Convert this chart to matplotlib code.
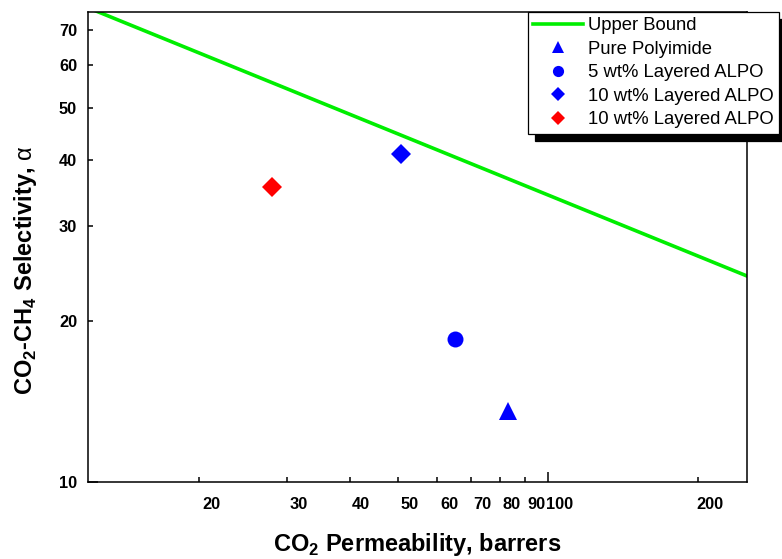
import matplotlib.pyplot as plt
from matplotlib.ticker import FixedLocator, FixedFormatter
from matplotlib.transforms import ScaledTranslation

plt.rcParams['font.family'] = ['Liberation Sans', 'DejaVu Sans']
plt.rcParams['mathtext.fontset'] = 'custom'
plt.rcParams['mathtext.rm'] = 'Liberation Sans'
plt.rcParams['mathtext.bf'] = 'Liberation Sans:bold'

# upper bound line (end points)
bound_perm = [12, 250]
bound_sel = [76.8, 24.25]

# membrane data points
names = ['Pure Polyimide', '5 wt% Layered ALPO', '10 wt% Layered ALPO', '10 wt% Layered ALPO']
perm = [83, 65, 50.7, 28.0]
sel = [13.55, 18.45, 41.0, 35.6]

# styling for each point
markers = ['^', 'o', 'D', 'D']
colors = ['blue', 'blue', 'blue', 'red']
msizes = [13, 11.5, 10, 10]

xtick_major = [100]
xtick_minor = [20, 30, 40, 50, 60, 70, 80, 90, 200]
ytick_major = [10]
ytick_minor = [20, 30, 40, 50, 60, 70]

fig = plt.figure(figsize=(7.82, 5.59), dpi=100)
ax = fig.add_axes([87.5/782, 1-481.7/559, (746.7-87.5)/782, (481.7-12)/559])

ax.plot(bound_perm, bound_sel, color='#00ee00', lw=2.6, label='Upper Bound', zorder=2)
for i in range(len(perm)):
    ax.plot(perm[i], sel[i], linestyle='none', marker=markers[i], color=colors[i],
            ms=msizes[i], mew=0, label=names[i], zorder=3)

ax.set_xscale('log')
ax.set_yscale('log')
ax.set_xlim(11.93, 250)
ax.set_ylim(10, 75.5)

ax.xaxis.set_major_locator(FixedLocator(xtick_major))
ax.xaxis.set_major_formatter(FixedFormatter([str(v) for v in xtick_major]))
ax.xaxis.set_minor_locator(FixedLocator(xtick_minor))
ax.xaxis.set_minor_formatter(FixedFormatter([str(v) for v in xtick_minor]))
ax.yaxis.set_major_locator(FixedLocator(ytick_major))
ax.yaxis.set_major_formatter(FixedFormatter([str(v) for v in ytick_major]))
ax.yaxis.set_minor_locator(FixedLocator(ytick_minor))
ax.yaxis.set_minor_formatter(FixedFormatter([str(v) for v in ytick_minor]))

ax.tick_params(which='both', direction='in', width=1.1, labelsize=11.8)
ax.tick_params(axis='x', which='both', pad=11)
ax.tick_params(axis='y', which='both', pad=7.5)
ax.tick_params(which='major', length=7.5)
ax.tick_params(which='minor', length=3.8)
for lab in ax.get_xticklabels(which='both'):
    lab.set_fontweight('bold')
    lab.set_transform(lab.get_transform() + ScaledTranslation(0.115, 0, fig.dpi_scale_trans))
for lab in ax.get_yticklabels(which='both'):
    lab.set_fontweight('bold')

for sp in ax.spines.values():
    sp.set_linewidth(1.1)

ax.set_xlabel(r'CO$_\mathbf{2}$ Permeability, barrers', fontsize=17, fontweight='bold')
ax.set_ylabel(r'CO$_\mathbf{2}$-CH$_\mathbf{4}$ Selectivity, $\mathrm{\alpha}$', fontsize=17,
              fontweight='bold')
ax.xaxis.set_label_coords(0.5, -0.104)
ax.yaxis.set_label_coords(-0.073, 0.45)

leg = ax.legend(loc='upper right', bbox_to_anchor=(779/782, 1-11.7/559), bbox_transform=fig.transFigure,
                fontsize=13.3, fancybox=False, edgecolor='black', framealpha=1, borderpad=0.3,
                handlelength=2.7, handletextpad=0.24, labelspacing=0.35, borderaxespad=0,
                markerscale=0.7, shadow={'ox': 5.3, 'oy': -5.5, 'color': 'black', 'alpha': 1})
leg.get_frame().set_linewidth(0.9)

plt.savefig('out.png', dpi=100)
